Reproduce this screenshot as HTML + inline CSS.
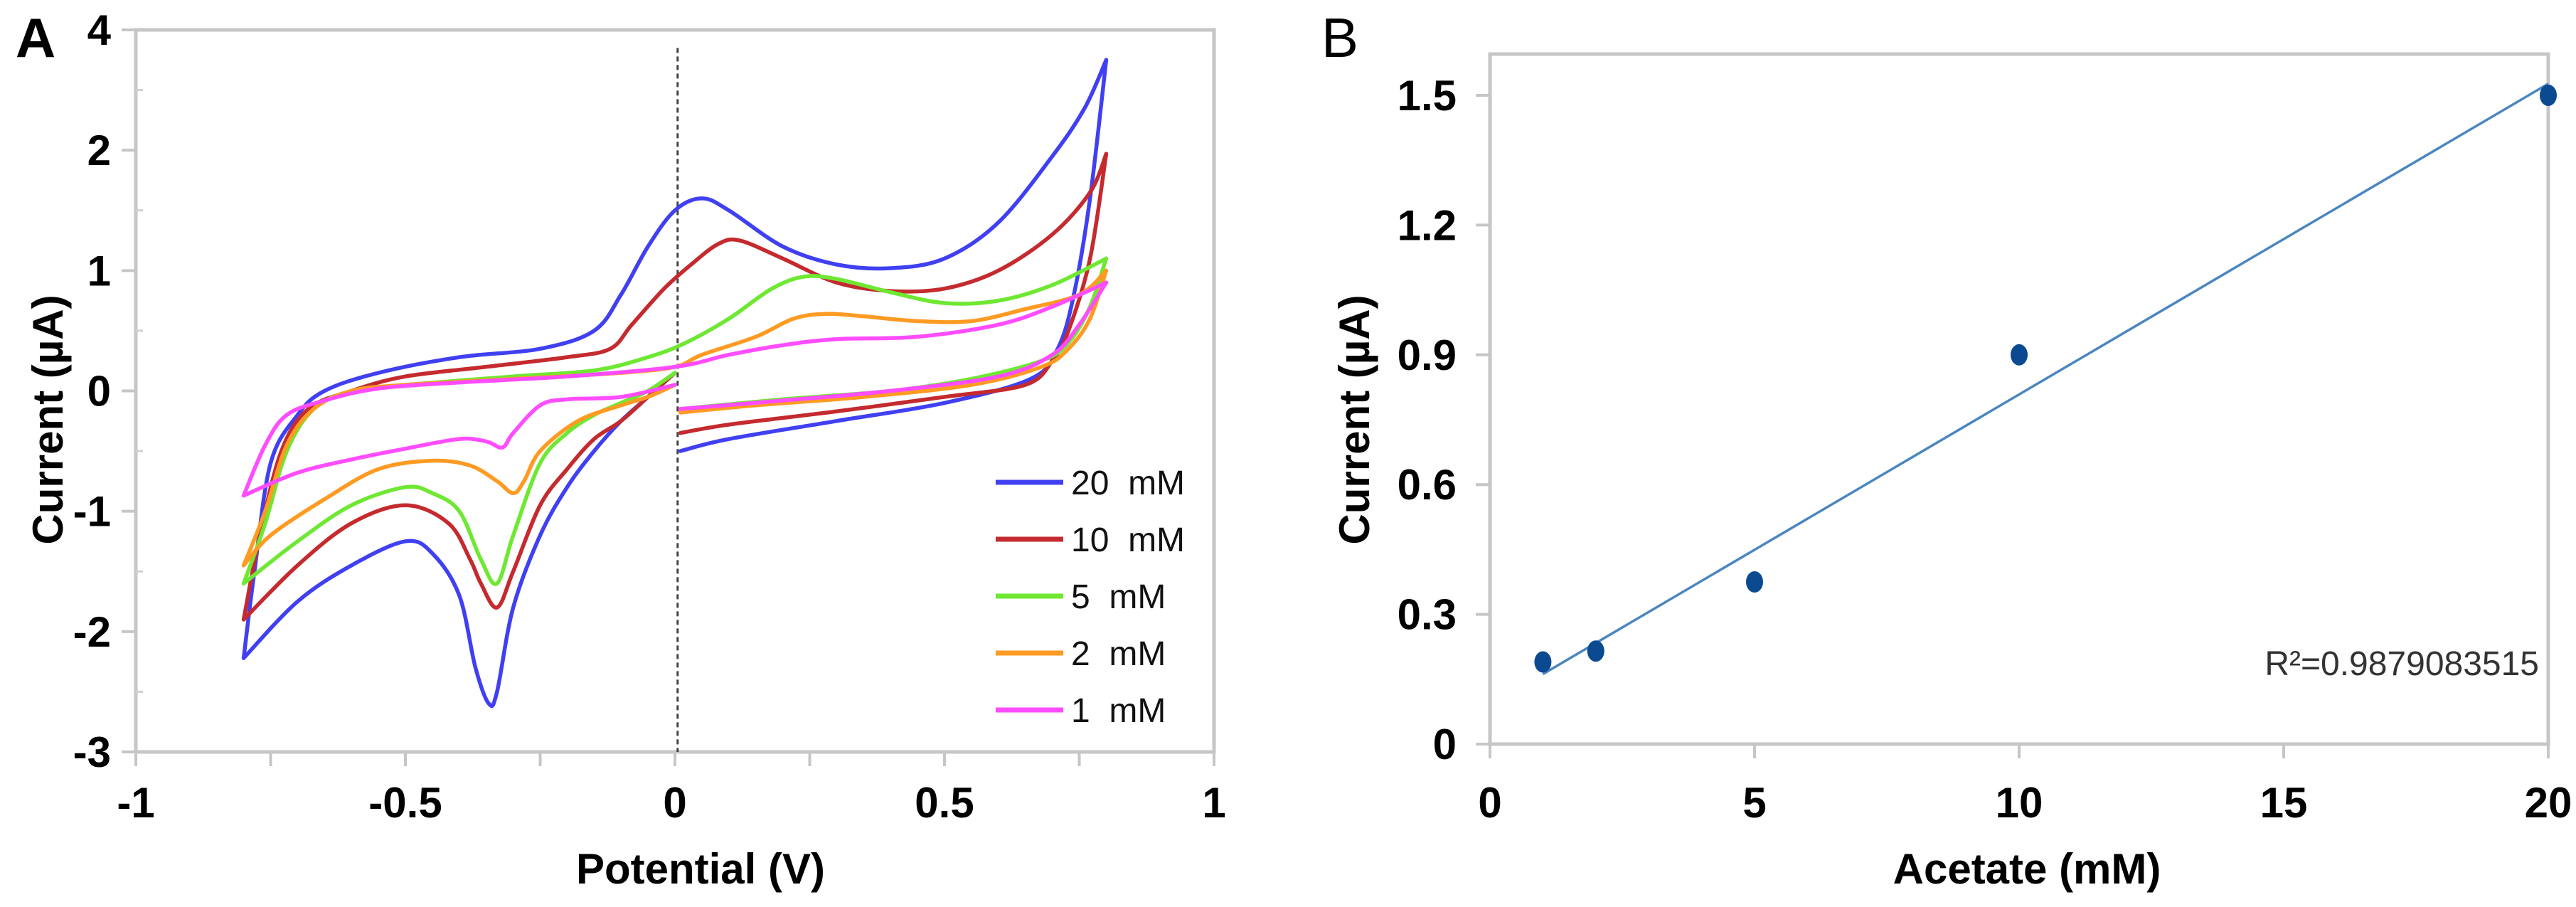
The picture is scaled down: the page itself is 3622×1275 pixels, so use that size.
<!DOCTYPE html>
<html><head><meta charset="utf-8"><style>
html,body{margin:0;padding:0;background:#fff;}
svg{display:block;font-family:"Liberation Sans",sans-serif;}
</style></head><body>
<svg id="fig" width="3622" height="1275" viewBox="0 0 3622 1275" xmlns="http://www.w3.org/2000/svg">
<g id="pa"></g>
<g id="pb"></g>
</svg>
<script>
// ---------- Panel A data ----------
const aXTicks = [-1,-0.5,0,0.5,1];
const aXTickLabels = ["-1","-0.5","0","0.5","1"];
const aYTicks = [3,2,1,0,-1,-2,-3];
const aYTickLabels = ["4","2","1","0","-1","-2","-3"];
const seriesNames = ["20  mM","10  mM","5  mM","2  mM","1  mM"];
const seriesColors = ["#4040f2","#c42a2e","#6ee832","#ff9a22","#ff4cff"];
const blueUp = [[-0.8,-2.22],[-0.78,-1.5],[-0.75,-0.6],[-0.7,-0.2],[-0.65,0],[-0.55,0.15],[-0.4,0.28],[-0.25,0.35],[-0.15,0.5],[-0.1,0.8],[-0.05,1.2],[0,1.5],[0.05,1.6],[0.1,1.5],[0.2,1.2],[0.3,1.05],[0.4,1.02],[0.5,1.1],[0.6,1.4],[0.7,1.95],[0.76,2.35],[0.8,2.75]];
const blueRev = [[0.8,2.75],[0.77,1.6],[0.74,0.8],[0.71,0.35],[0.66,0.1],[0.5,-0.1],[0.3,-0.25],[0.1,-0.4],[0.01,-0.5]];
const blueLow = [[0,0.15],[-0.05,-0.05],[-0.1,-0.25],[-0.15,-0.5],[-0.2,-0.8],[-0.25,-1.2],[-0.3,-1.8],[-0.33,-2.5],[-0.345,-2.6],[-0.37,-2.3],[-0.4,-1.7],[-0.45,-1.35],[-0.5,-1.25],[-0.6,-1.45],[-0.7,-1.75],[-0.8,-2.22]];
const redUp = [[-0.8,-1.9],[-0.77,-1.2],[-0.73,-0.5],[-0.68,-0.15],[-0.6,0],[-0.5,0.12],[-0.35,0.2],[-0.2,0.28],[-0.12,0.35],[-0.08,0.55],[-0.02,0.85],[0.03,1.05],[0.08,1.22],[0.12,1.25],[0.2,1.1],[0.3,0.9],[0.4,0.83],[0.5,0.85],[0.6,1.0],[0.7,1.3],[0.77,1.65],[0.8,1.97]];
const redRev = [[0.8,1.97],[0.77,1.1],[0.73,0.5],[0.7,0.25],[0.65,0.05],[0.5,-0.05],[0.3,-0.17],[0.1,-0.28],[0.01,-0.35]];
const redLow = [[0,0.15],[-0.05,-0.05],[-0.1,-0.25],[-0.15,-0.4],[-0.2,-0.65],[-0.25,-0.95],[-0.3,-1.5],[-0.33,-1.8],[-0.36,-1.6],[-0.38,-1.4],[-0.42,-1.1],[-0.5,-0.95],[-0.6,-1.1],[-0.7,-1.45],[-0.8,-1.9]];
const greenUp = [[-0.8,-1.6],[-0.76,-1.1],[-0.72,-0.5],[-0.67,-0.15],[-0.6,0],[-0.5,0.05],[-0.3,0.12],[-0.15,0.17],[-0.05,0.28],[0.02,0.4],[0.1,0.6],[0.18,0.85],[0.24,0.95],[0.3,0.93],[0.4,0.82],[0.5,0.73],[0.6,0.75],[0.7,0.88],[0.8,1.1]];
const greenRev = [[0.8,1.1],[0.77,0.7],[0.73,0.4],[0.68,0.25],[0.55,0.1],[0.4,0],[0.2,-0.07],[0.01,-0.15]];
const greenLow = [[0,0.15],[-0.05,0],[-0.1,-0.1],[-0.15,-0.2],[-0.2,-0.35],[-0.25,-0.6],[-0.3,-1.2],[-0.33,-1.6],[-0.36,-1.4],[-0.4,-1.0],[-0.45,-0.85],[-0.5,-0.8],[-0.6,-0.95],[-0.7,-1.25],[-0.8,-1.6]];
const orangeUp = [[-0.8,-1.45],[-0.76,-1.0],[-0.72,-0.45],[-0.67,-0.15],[-0.6,0],[-0.5,0.05],[-0.3,0.1],[-0.1,0.15],[0,0.2],[0.05,0.3],[0.15,0.45],[0.22,0.6],[0.28,0.64],[0.35,0.62],[0.45,0.58],[0.55,0.58],[0.65,0.68],[0.75,0.8],[0.8,1.0]];
const orangeRev = [[0.8,1.0],[0.77,0.6],[0.73,0.35],[0.68,0.2],[0.55,0.05],[0.35,-0.05],[0.15,-0.12],[0.01,-0.18]];
const orangeLow = [[0,0.05],[-0.05,-0.05],[-0.1,-0.12],[-0.18,-0.25],[-0.25,-0.5],[-0.28,-0.75],[-0.3,-0.85],[-0.33,-0.75],[-0.38,-0.62],[-0.45,-0.58],[-0.55,-0.65],[-0.65,-0.9],[-0.75,-1.2],[-0.8,-1.45]];
const magentaUp = [[-0.8,-0.87],[-0.76,-0.45],[-0.72,-0.2],[-0.65,-0.08],[-0.55,0.02],[-0.4,0.07],[-0.2,0.12],[0,0.2],[0.1,0.3],[0.2,0.38],[0.3,0.43],[0.45,0.45],[0.6,0.55],[0.7,0.7],[0.8,0.9]];
const magentaRev = [[0.8,0.9],[0.75,0.55],[0.7,0.3],[0.6,0.12],[0.4,0],[0.2,-0.08],[0.01,-0.15]];
const magentaLow = [[0,0.05],[-0.1,-0.05],[-0.2,-0.07],[-0.25,-0.12],[-0.3,-0.35],[-0.32,-0.47],[-0.35,-0.42],[-0.4,-0.4],[-0.5,-0.48],[-0.6,-0.57],[-0.7,-0.68],[-0.8,-0.87]];
const seriesData = [[blueUp,blueRev,blueLow],[redUp,redRev,redLow],[greenUp,greenRev,greenLow],[orangeUp,orangeRev,orangeLow],[magentaUp,magentaRev,magentaLow]];

// ---------- Panel B data ----------
const bX = [1,2,5,10,20];
const bY = [0.19,0.215,0.375,0.9,1.5];
const bXTicks = [0,5,10,15,20];
const bXTickLabels = ["0","5","10","15","20"];
const bYTicks = [0,0.3,0.6,0.9,1.2,1.5];
const bYTickLabels = ["0","0.3","0.6","0.9","1.2","1.5"];
const r2Label = "R²=0.9879083515";

const NS="http://www.w3.org/2000/svg";
function mk(parent,tag,attrs,text){const e=document.createElementNS(NS,tag);for(const k in attrs)e.setAttribute(k,attrs[k]);if(text!==undefined)e.textContent=text;parent.appendChild(e);return e;}
function smooth(pts){let d='M'+pts[0][0]+','+pts[0][1];for(let i=0;i<pts.length-1;i++){const p0=pts[Math.max(i-1,0)],p1=pts[i],p2=pts[i+1],p3=pts[Math.min(i+2,pts.length-1)];const c1x=p1[0]+(p2[0]-p0[0])/6,c1y=p1[1]+(p2[1]-p0[1])/6,c2x=p2[0]-(p3[0]-p1[0])/6,c2y=p2[1]-(p3[1]-p1[1])/6;d+=' C'+c1x+','+c1y+' '+c2x+','+c2y+' '+p2[0]+','+p2[1];}return d;}

// Panel A
const pa=document.getElementById('pa');
const AL=191,AR=1707,AT=42,AB=1057;
const ax=v=>AL+(v+1)/2*(AR-AL);
const ay=v=>AB-(v+3)/6*(AB-AT);
let t;
t=mk(pa,'text',{x:50,y:80,'font-size':78,'text-anchor':'middle','font-weight':'bold'},'A');


let box=mk(pa,'rect',{x:AL,y:AT,width:AR-AL,height:AB-AT,fill:'none',stroke:'#c6c6c6','stroke-width':5});


for(let v=-1;v<=1.0001;v+=0.25){const l=mk(pa,'line',{x1:ax(v),x2:ax(v),y1:AB,y2:AB+20,stroke:'#c6c6c6','stroke-width':4});

}
aXTicks.forEach((v,i)=>{const e=mk(pa,'text',{x:ax(v),y:1149,'font-size':60,'font-weight':'bold','text-anchor':'middle'},aXTickLabels[i]);

});
aYTicks.forEach((v,i)=>{const l=mk(pa,'line',{x1:AL-20,x2:AL,y1:ay(v),y2:ay(v),stroke:'#c6c6c6','stroke-width':4});


const e=mk(pa,'text',{x:156,y:ay(v)+21,'font-size':60,'font-weight':'bold','text-anchor':'end'},aYTickLabels[i]);


if(v>-3){const m=mk(pa,'line',{x1:AL,x2:AL+10,y1:ay(v-0.5),y2:ay(v-0.5),stroke:'#d0d0d0','stroke-width':3});

}});
t=mk(pa,'text',{x:985,y:1242,'font-size':60,'font-weight':'bold','text-anchor':'middle'},'Potential (V)');


t=mk(pa,'text',{x:0,y:0,'font-size':60,'font-weight':'bold','text-anchor':'middle',transform:'translate(88,590) rotate(-90)'},'Current (µA)');


let dl=mk(pa,'line',{x1:ax(0.005),x2:ax(0.005),y1:ay(2.85),y2:AB,stroke:'#444','stroke-width':3,'stroke-dasharray':'7,5'});


seriesData.forEach((segs,si)=>{const g=mk(pa,'g',{});


segs.forEach(seg=>{const p=mk(g,'path',{d:smooth(seg.map(q=>[ax(q[0]),ay(q[1])])),fill:'none',stroke:seriesColors[si],'stroke-width':5.5,'stroke-linejoin':'round','stroke-linecap':'round'});

});});
seriesNames.forEach((n,i)=>{const y=678+i*80;const g=mk(pa,'g',{});


mk(g,'line',{x1:1400,x2:1495,y1:y,y2:y,stroke:seriesColors[i],'stroke-width':7});
mk(g,'text',{x:1506,y:y+17,'font-size':48,fill:'#111',style:'white-space:pre'},n);});

// Panel B
const pb=document.getElementById('pb');
const BL=2095,BR=3583,BT=76,BB=1046;
const bx=v=>BL+v/20*(BR-BL);
const by=v=>BB-v/1.5*(BB-134);
t=mk(pb,'text',{x:1884,y:80,'font-size':78,'text-anchor':'middle'},'B');


box=mk(pb,'rect',{x:BL,y:BT,width:BR-BL,height:BB-BT,fill:'none',stroke:'#c6c6c6','stroke-width':5});


bXTicks.forEach((v,i)=>{const l=mk(pb,'line',{x1:bx(v),x2:bx(v),y1:BB,y2:BB+20,stroke:'#c6c6c6','stroke-width':4});


const e=mk(pb,'text',{x:bx(v),y:1149,'font-size':60,'font-weight':'bold','text-anchor':'middle'},bXTickLabels[i]);

});
bYTicks.forEach((v,i)=>{const l=mk(pb,'line',{x1:BL-20,x2:BL,y1:by(v),y2:by(v),stroke:'#c6c6c6','stroke-width':4});


const e=mk(pb,'text',{x:2048,y:by(v)+21,'font-size':60,'font-weight':'bold','text-anchor':'end'},bYTickLabels[i]);

});
t=mk(pb,'text',{x:2850,y:1242,'font-size':60,'font-weight':'bold','text-anchor':'middle'},'Acetate (mM)');


t=mk(pb,'text',{x:0,y:0,'font-size':60,'font-weight':'bold','text-anchor':'middle',transform:'translate(1925,590) rotate(-90)'},'Current (µA)');


// least-squares fit
const n=bX.length,mx=bX.reduce((a,b)=>a+b)/n,my=bY.reduce((a,b)=>a+b)/n;
let sxy=0,sxx=0;for(let i=0;i<n;i++){sxy+=(bX[i]-mx)*(bY[i]-my);sxx+=(bX[i]-mx)**2;}
const slope=sxy/sxx,icpt=my-slope*mx;
const x0=Math.min(...bX),x1=Math.max(...bX);
let fl=mk(pb,'line',{x1:bx(x0),y1:by(icpt+slope*x0),x2:bx(x1),y2:by(icpt+slope*x1),stroke:'#4a86c0','stroke-width':3.5});


bX.forEach((v,i)=>{const c=mk(pb,'ellipse',{cx:bx(v),cy:by(bY[i]),rx:12,ry:15,fill:'#0b4a90'});

});
t=mk(pb,'text',{x:3570,y:949,'font-size':48,fill:'#333','text-anchor':'end'},r2Label);


</script>
</body></html>
